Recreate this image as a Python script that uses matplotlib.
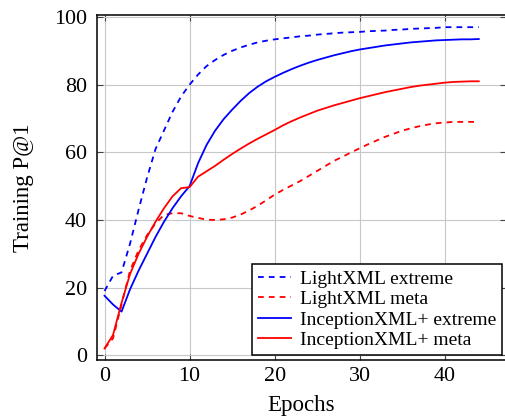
import matplotlib
matplotlib.use("Agg")
import matplotlib.pyplot as plt
import numpy as np

plt.rcParams['font.family'] = ['Liberation Serif', 'DejaVu Serif']
plt.rcParams['mathtext.fontset'] = 'stix'

epochs = list(range(0, 45))

lightxml_extreme = [19.0, 23.5, 24.5, 33.0, 43.0, 52.5, 61.0, 66.5, 72.0, 76.5,
                    80.0, 83.0, 85.5, 87.3, 88.8, 90.0, 91.0, 91.8, 92.5, 93.0,
                    93.4, 93.7, 94.0, 94.3, 94.5, 94.8, 95.0, 95.2, 95.4, 95.5,
                    95.6, 95.8, 95.9, 96.0, 96.2, 96.3, 96.5, 96.6, 96.7, 96.8,
                    97.0, 97.0, 97.0, 97.0, 97.0]

lightxml_meta = [2.0, 5.0, 15.0, 25.0, 31.0, 35.5, 39.0, 41.5, 42.0, 42.0,
                 41.2, 40.6, 40.1, 40.0, 40.2, 40.7, 41.6, 42.8, 44.2, 45.8,
                 47.5, 48.9, 50.2, 51.5, 53.0, 54.5, 56.0, 57.5, 58.7, 60.0,
                 61.2, 62.4, 63.5, 64.6, 65.5, 66.4, 67.1, 67.7, 68.2, 68.6,
                 68.8, 69.0, 69.0, 69.0, 69.0]

inception_extreme = [17.6, 15.0, 12.9, 19.5, 25.0, 30.0, 35.0, 39.5, 43.5, 47.0,
                     50.0, 56.8, 62.2, 66.4, 69.8, 72.6, 75.2, 77.5, 79.4, 81.0,
                     82.3, 83.5, 84.6, 85.6, 86.5, 87.3, 88.0, 88.7, 89.3, 89.9,
                     90.4, 90.8, 91.2, 91.6, 91.9, 92.2, 92.5, 92.7, 92.9, 93.1,
                     93.2, 93.3, 93.4, 93.4, 93.5]

inception_meta = [2.0, 6.0, 15.5, 24.0, 30.0, 35.0, 39.5, 43.5, 47.0, 49.4,
                  49.7, 52.8, 54.4, 56.0, 57.8, 59.5, 61.1, 62.6, 64.0, 65.3,
                  66.6, 68.0, 69.2, 70.3, 71.3, 72.3, 73.1, 73.9, 74.6, 75.3,
                  76.0, 76.6, 77.2, 77.8, 78.3, 78.8, 79.3, 79.7, 80.0, 80.3,
                  80.6, 80.8, 80.9, 81.0, 81.0]

labels = ["LightXML extreme", "LightXML meta",
          "InceptionXML+ extreme", "InceptionXML+ meta"]
xticks = [0, 10, 20, 30, 40]
yticks = [0, 20, 40, 60, 80, 100]

W, H = 505, 420
fig = plt.figure(figsize=(W / 100, H / 100), dpi=100)
left, right, bottom, top = 96.7, 506.0, 360.0, 15.0
ax = fig.add_axes([left / W, 1 - bottom / H, (right - left) / W, (bottom - top) / H])

lw = 1.3
dash = (0, (3.2, 2.8))
ax.plot(epochs, lightxml_extreme, color='#0000ff', lw=lw, ls=dash, label=labels[0])
ax.plot(epochs, lightxml_meta, color='#ff0000', lw=lw, ls=dash, label=labels[1])
ax.plot(epochs, inception_extreme, color='#0000ff', lw=lw, label=labels[2])
ax.plot(epochs, inception_meta, color='#ff0000', lw=lw, label=labels[3])

ax.set_xlim(-0.92, 47.2)
ax.set_ylim(-1.4, 100.6)
ax.set_xticks(xticks)
ax.set_yticks(yticks)
ax.grid(True, color='#c8c8c8', lw=0.8)
ax.set_axisbelow(True)
ax.tick_params(direction='in', top=True, right=True, length=4, width=0.8,
               labelsize=15.8, color='#444444')
ax.tick_params(axis='x', pad=5)
ax.tick_params(axis='y', pad=7)
for s in ax.spines.values():
    s.set_linewidth(1.1)
    s.set_color('black')

ax.set_xlabel("Epochs", fontsize=16.5)
ax.set_ylabel("Training P@1", fontsize=16.5)
ax.xaxis.set_label_coords(0.5, -0.101)
ax.yaxis.set_label_coords(-0.152, 0.5)

leg = ax.legend(loc='lower right', bbox_to_anchor=(502 / W, 1 - 355 / H),
                bbox_transform=fig.transFigure, fontsize=14, frameon=True,
                fancybox=False, edgecolor='black', handlelength=1.68,
                handletextpad=0.46, labelspacing=0.15, borderpad=0.3,
                borderaxespad=0)
leg.get_frame().set_linewidth(1.1)
leg.get_frame().set_alpha(1)

fig.savefig("out.png", dpi=100)
